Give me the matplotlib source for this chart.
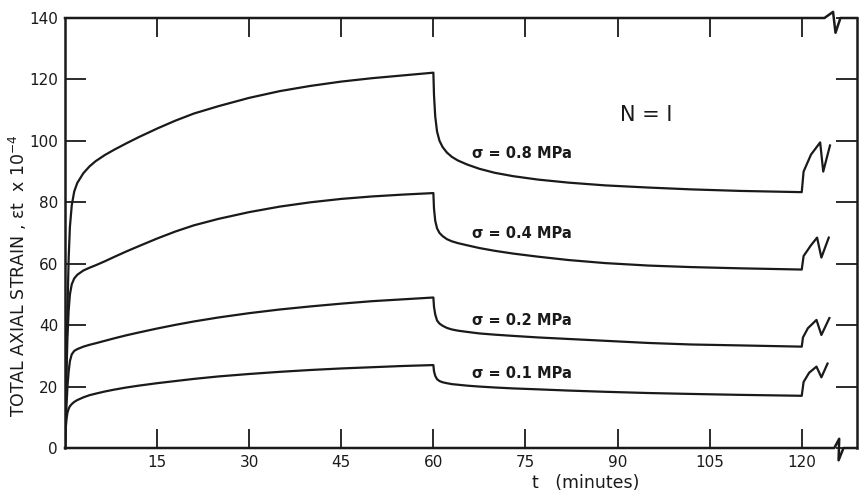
import matplotlib
matplotlib.use("Agg")
import matplotlib.pyplot as plt

# ---- data ----
t_load = [0, 0.1, 0.25, 0.4, 0.6, 0.8, 1.1, 1.5, 2, 3, 4, 5, 6.5, 8, 10, 12, 15,
          18, 21, 25, 30, 35, 40, 45, 50, 55, 60]
t_unload = [60.1, 60.3, 60.6, 61, 61.5, 62.2, 63, 64, 65.5, 67.5, 70, 73, 77, 82,
            88, 95, 102, 110, 120]

s08_load = [0, 12, 30, 45, 62, 72, 79, 83.5, 86.3, 89.5, 91.7, 93.4, 95.4, 97.1, 99.2,
            101.2, 104, 106.6, 108.9, 111.3, 114, 116.2, 117.9, 119.3, 120.4, 121.3, 122.2]
s08_unload = [115, 108, 103, 100, 98, 96.2, 94.8, 93.6, 92.3, 90.9, 89.6, 88.5, 87.4,
              86.4, 85.5, 84.8, 84.2, 83.7, 83.3]
s08_break_t = [120.3, 121.5, 123, 123.5, 124.6]
s08_break_y = [90, 95.5, 99.5, 90, 98.5]

s04_load = [0, 10, 25, 36, 45, 50, 53.3, 55.2, 56.4, 57.8, 58.7, 59.5, 60.8, 62.2, 64,
            65.7, 68.2, 70.5, 72.5, 74.6, 76.8, 78.6, 80, 81.1, 81.9, 82.5, 83]
s04_unload = [78, 74, 71.5, 70, 69, 68, 67.3, 66.7, 66, 65.1, 64.2, 63.3, 62.3, 61.2,
              60.2, 59.4, 58.9, 58.5, 58.1]
s04_break_t = [120.3, 121.5, 122.5, 123.2, 124.4]
s04_break_y = [62.5, 66, 68.5, 62, 68.5]

s02_load = [0, 6, 14, 20, 25, 28.3, 30.5, 31.6, 32.2, 33, 33.6, 34.1, 34.9, 35.7, 36.7,
            37.6, 38.9, 40.1, 41.2, 42.5, 43.9, 45.1, 46.1, 47, 47.8, 48.4, 49]
s02_unload = [46, 43.5, 41.5, 40.5, 39.8, 39.1, 38.6, 38.2, 37.8, 37.3, 36.9, 36.5, 36,
              35.5, 34.9, 34.2, 33.7, 33.4, 33]
s02_break_t = [120.2, 121, 122.4, 123.2, 124.5]
s02_break_y = [36, 39, 41.7, 36.8, 42.3]

s01_load = [0, 6, 9.5, 11.5, 12.8, 13.6, 14.3, 15, 15.6, 16.5, 17.2, 17.7, 18.4, 19,
            19.7, 20.3, 21.1, 21.8, 22.5, 23.3, 24.1, 24.8, 25.4, 25.9, 26.3, 26.7, 27]
s01_unload = [25, 23.5, 22.4, 21.8, 21.4, 21.1, 20.8, 20.6, 20.3, 20, 19.7, 19.4, 19.1,
              18.7, 18.3, 17.9, 17.6, 17.3, 17]
s01_break_t = [120.3, 121.2, 122.4, 123.2, 124.2]
s01_break_y = [21.5, 24.5, 26.5, 23, 27.5]

labels = ["σ = 0.8 MPa", "σ = 0.4 MPa", "σ = 0.2 MPa", "σ = 0.1 MPa"]
label_pos = [(66.3, 95.8), (66.3, 70.0), (66.3, 41.4), (66.3, 24.4)]

x_ticks = [15, 30, 45, 60, 75, 90, 105, 120]
y_ticks = [0, 20, 40, 60, 80, 100, 120, 140]

series = [
    (s08_load, s08_unload, s08_break_t, s08_break_y),
    (s04_load, s04_unload, s04_break_t, s04_break_y),
    (s02_load, s02_unload, s02_break_t, s02_break_y),
    (s01_load, s01_unload, s01_break_t, s01_break_y),
]

# ---- figure ----
fig = plt.figure(figsize=(8.59, 4.94), dpi=100)
ax = fig.add_axes([65/859, 1-448/494, (857-65)/859, (448-18)/494])
ink = "#1a1a1a"

for load, unload, bt, by in series:
    tt = t_load + t_unload + bt
    yy = load + unload + by
    ax.plot(tt, yy, color=ink, lw=1.6, solid_joinstyle="round")

for txt, (x, y) in zip(labels, label_pos):
    ax.text(x, y, txt, fontsize=10.5, color=ink, ha="left", va="center", fontweight="bold")

ax.text(94.6, 108.5, "N = I", fontsize=15, color=ink, ha="center", va="center")

ax.set_xlim(0, 129)
ax.set_ylim(0, 140)
ax.set_xticks(x_ticks)
ax.set_yticks(y_ticks)
ax.tick_params(direction="in", length=15, width=1.3, top=True, right=True,
               labelsize=11, colors=ink, pad=5)
ax.tick_params(axis="x", which="major", length=14)

for sp in ["left", "right"]:
    ax.spines[sp].set_linewidth(1.8)
    ax.spines[sp].set_color(ink)
ax.spines["top"].set_visible(False)
ax.spines["bottom"].set_visible(False)

# spines with axis-break marks
ax.plot([0, 123.7, 125.1, 125.5, 126.3, 129], [140, 140, 142.0, 135.2, 140, 140],
        color=ink, lw=1.8, clip_on=False)
ax.plot([0, 125.3, 126.1, 126.0, 126.8, 129], [0, 0, 3, -4, 0, 0],
        color=ink, lw=1.8, clip_on=False)

ax.set_xlabel("t   (minutes)", fontsize=12.5, color=ink)
ax.xaxis.set_label_coords(0.657, -0.060)
ax.set_ylabel("TOTAL AXIAL STRAIN , εt  x 10$^{-4}$", fontsize=12.5, color=ink)
ax.yaxis.set_label_coords(-0.045, 0.40)

fig.savefig("out.png", dpi=100)
